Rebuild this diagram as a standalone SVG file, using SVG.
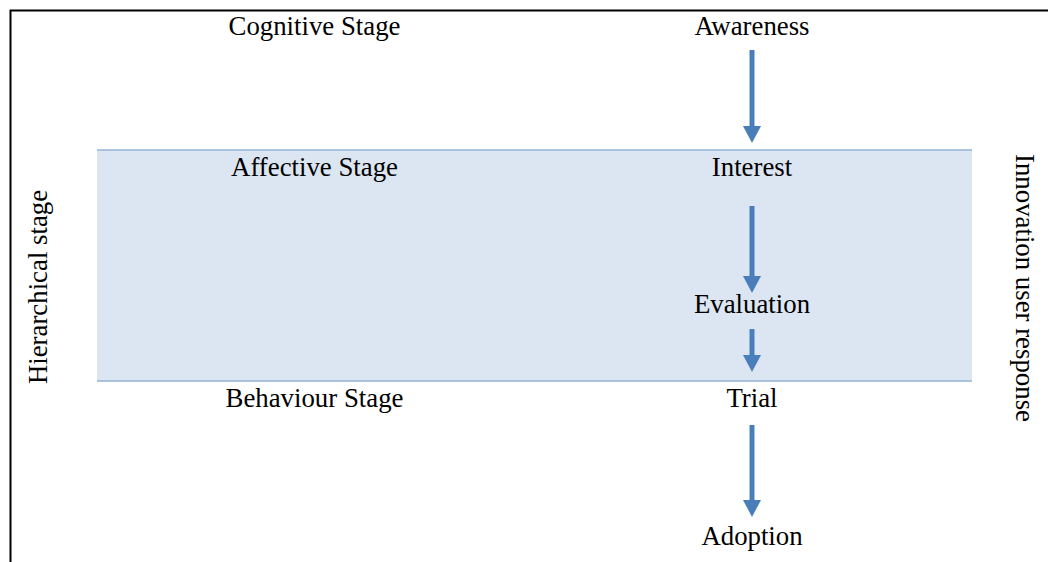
<svg xmlns="http://www.w3.org/2000/svg" width="1048" height="562" viewBox="0 0 1048 562">
<style>
text{font-family:"Liberation Serif","Times New Roman",serif;font-size:26.8px;fill:#000;text-anchor:middle}
.shaft{stroke:#4a7ebb;stroke-width:5;fill:none}
.head{fill:#4a7ebb}
.band-line{stroke:#95b3d7;stroke-width:1.5}
</style>
<rect width="1048" height="562" fill="#fff"/>
<path d="M10.5,562 V10.5 H1048" stroke="#000" stroke-width="2" fill="none"/>
<g id="band">
<rect x="97" y="150" width="875" height="231" fill="#dce6f2"/>
<line class="band-line" x1="97" y1="150" x2="972" y2="150"/>
<line class="band-line" x1="97" y1="381" x2="972" y2="381"/>
</g>
<g id="connectors">
<line class="shaft" x1="752" y1="50" x2="752" y2="127"/>
<polygon class="head" points="743,126 761,126 752,143"/>
<line class="shaft" x1="752" y1="206" x2="752" y2="277"/>
<polygon class="head" points="743,276 761,276 752,293"/>
<line class="shaft" x1="752" y1="329" x2="752" y2="356"/>
<polygon class="head" points="743,355 761,355 752,372"/>
<line class="shaft" x1="752" y1="425" x2="752" y2="501"/>
<polygon class="head" points="743,500 761,500 752,517"/>
</g>
<g id="cognitive-stage"><text x="314.5" y="35">Cognitive Stage</text></g>
<g id="affective-stage"><text x="314.5" y="176">Affective Stage</text></g>
<g id="behaviour-stage"><text x="314.5" y="407">Behaviour Stage</text></g>
<g id="awareness"><text x="752" y="35">Awareness</text></g>
<g id="interest"><text x="752" y="176">Interest</text></g>
<g id="evaluation"><text x="752" y="313">Evaluation</text></g>
<g id="trial"><text x="752" y="407">Trial</text></g>
<g id="adoption"><text x="752" y="545">Adoption</text></g>
<g id="hierarchical-stage"><text transform="translate(47,287) rotate(-90)">Hierarchical stage</text></g>
<g id="innovation-user-response"><text transform="translate(1016,288) rotate(90)">Innovation user response</text></g>
</svg>
